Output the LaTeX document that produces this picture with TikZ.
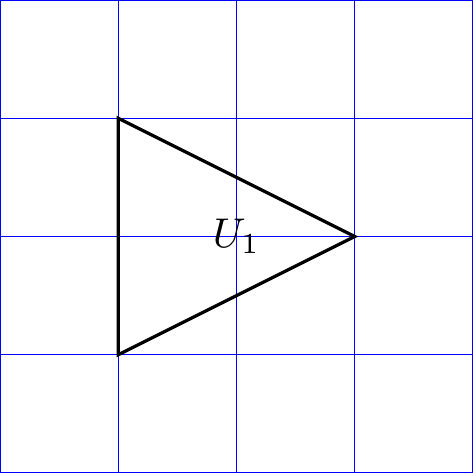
\documentclass[tikz,border=0pt]{standalone}
\begin{document}
\begin{tikzpicture}
\tikzset{gridline/.style={blue,line width=0.3pt},tri/.style={black,line width=0.8pt}}
\useasboundingbox (-2,-2) rectangle (2,2);
\draw[gridline] (-2,-2) grid (2,2);
\coordinate (a) at (-1,1);
\coordinate (b) at (-1,-1);
\coordinate (c) at (1,0);
\draw[tri] (a) -- (b) -- (c) -- cycle;
\node (lab) at (0,0) {$U_1$};
\end{tikzpicture}
\end{document}
